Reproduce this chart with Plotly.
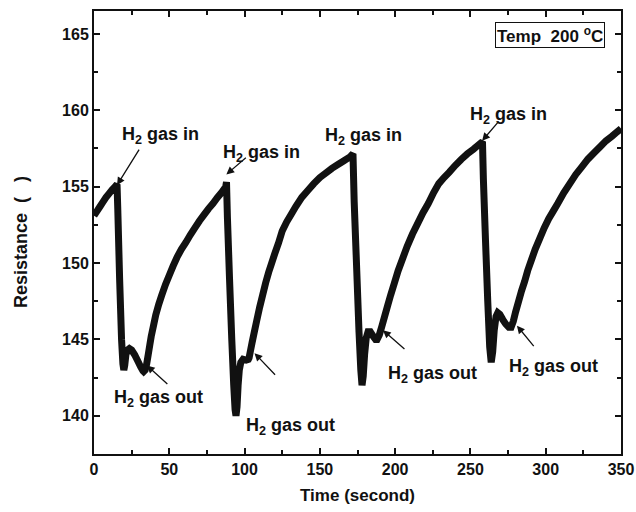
import plotly.graph_objects as go

# Time (s) and resistance values
time_s = [0, 2, 4, 6, 8, 10, 12, 14, 15.3,
          15.8, 17, 18.3, 19.2, 19.8, 20.4, 21.2, 22.2, 23.5, 25, 27, 29, 31, 32.5, 33,
          34, 35, 36, 37, 38, 39.5, 41, 43, 45, 47.5, 50, 52.5, 55, 58, 61, 64, 67, 70, 73, 76, 79, 82, 85, 87.5, 88,
          88.6, 90, 91.5, 92.8, 93.7, 94.3, 95, 95.7, 96.5, 97.5, 99, 101, 102.5, 103,
          104, 105, 106.5, 108, 110, 112, 114, 116, 118, 120, 122.5, 125, 128, 131, 134, 138, 142, 146, 150, 154, 158, 162, 166, 170, 172,
          172.8, 174.5, 176, 177.2, 178, 178.8, 179.7, 180.8, 182, 183.5, 185.5, 187, 188,
          189.5, 191, 193, 195, 197, 199.5, 202, 205, 208, 211.5, 215, 218.5, 222, 225.5, 229, 232.5, 236, 240, 244, 248, 252, 255, 258,
          258.6, 260, 261.5, 262.8, 263.8, 264.8, 265.8, 267, 268.2, 269.5, 271.5, 273.5, 275.5, 277,
          278.5, 280, 282, 284, 286, 288, 290.5, 293, 296, 299, 302, 305, 308, 312, 316, 320, 324, 328, 332, 336, 340, 344, 347, 350]
resistance = [153.1, 153.4, 153.7, 154.0, 154.3, 154.55, 154.8, 155.0, 155.15,
              153.5, 149.0, 145.0, 143.4, 143.0, 143.3, 144.0, 144.3, 144.4, 144.3, 144.0, 143.6, 143.2, 142.95, 142.9,
              143.0, 143.4, 144.0, 144.6, 145.2, 145.9, 146.6, 147.3, 147.9, 148.6, 149.2, 149.8, 150.35, 150.9, 151.35, 151.85, 152.3, 152.75, 153.15, 153.55, 153.9, 154.3, 154.65, 155.0, 155.3,
              153.0, 149.0, 145.0, 142.0, 140.4, 140.0, 140.6, 142.0, 143.0, 143.5, 143.7, 143.65, 143.7, 143.8,
              144.3, 144.8, 145.5, 146.2, 147.1, 147.9, 148.7, 149.4, 150.0, 150.6, 151.3, 152.1, 152.7, 153.2, 153.7, 154.3, 154.75, 155.2, 155.6, 155.9, 156.2, 156.45, 156.7, 156.95, 157.15,
              154.0, 149.5, 145.5, 143.0, 142.0, 142.6, 144.0, 145.1, 145.5, 145.5, 145.2, 145.0, 145.0,
              145.3, 145.8, 146.5, 147.2, 147.9, 148.7, 149.5, 150.3, 151.1, 151.9, 152.6, 153.3, 153.9, 154.6, 155.2, 155.6, 155.95, 156.4, 156.8, 157.15, 157.45, 157.7, 157.95,
              155.5, 151.5, 147.5, 144.5, 143.5, 144.2, 145.6, 146.5, 146.75, 146.65, 146.3, 146.0, 145.8, 145.8,
              146.2, 146.8, 147.5, 148.2, 148.8, 149.5, 150.2, 150.9, 151.6, 152.3, 152.9, 153.4, 153.9, 154.6, 155.2, 155.8, 156.3, 156.8, 157.2, 157.6, 158.0, 158.3, 158.55, 158.8]

# Annotation labels: (text, x, y)
label_text = ["H<sub>2</sub> gas in", "H<sub>2</sub> gas in", "H<sub>2</sub> gas in", "H<sub>2</sub> gas in",
              "H<sub>2</sub> gas out", "H<sub>2</sub> gas out", "H<sub>2</sub> gas out", "H<sub>2</sub> gas out"]
label_x = [43.9, 111.2, 179.1, 275.5, 42.6, 130.3, 224.6, 305.1]
label_y = [158.33, 157.2, 158.28, 159.65, 141.16, 139.33, 142.73, 143.18]

# Arrow tips (data) and tail offsets (pixels)
arrow_x = [15.3, 87.9, 257.8, 35.1, 106.6, 191.9, 280.9]
arrow_y = [155.1, 155.8, 158.0, 143.3, 144.1, 145.6, 145.9]
arrow_ax = [23, 21, 17, 22, 22, 23, 18]
arrow_ay = [-37, -18, -20, 20, 23, 20, 22]

FONT = "Liberation Sans, Arial, sans-serif"

fig = go.Figure()
fig.add_trace(go.Scatter(x=time_s, y=resistance, mode="lines",
                         line=dict(color="#111111", width=7, simplify=False), showlegend=False))

for t, x, y in zip(label_text, label_x, label_y):
    fig.add_annotation(x=x, y=y, text="<b>" + t + "</b>", showarrow=False,
                       font=dict(family=FONT, size=18, color="#111"))

for x, y, ax, ay in zip(arrow_x, arrow_y, arrow_ax, arrow_ay):
    fig.add_annotation(x=x, y=y, ax=ax, ay=ay, text="", showarrow=True,
                       arrowhead=2, arrowsize=1.2, arrowwidth=1.3, arrowcolor="#111")

fig.add_annotation(xref="paper", yref="paper", x=0.970, y=0.976, xanchor="right", yanchor="top",
                   text="<b>Temp  200 <sup>o</sup>C</b>", showarrow=False,
                   font=dict(family=FONT, size=17, color="#111"),
                   bordercolor="#111", borderwidth=1, borderpad=1, bgcolor="white")

fig.add_annotation(xref="paper", yref="paper", x=-0.139, y=0.478, xanchor="center", yanchor="middle",
                   textangle=-90, text="<b>Resistance  (   )</b>", showarrow=False,
                   font=dict(family=FONT, size=18, color="#111"))

axis_common = dict(showgrid=False, zeroline=False, showline=True, linecolor="#111", linewidth=2,
                   mirror="allticks", ticks="inside", ticklen=6, tickwidth=1.5, tickcolor="#111",
                   tickfont=dict(family=FONT, size=16, color="#111"),
                   tickprefix="<b>", ticksuffix="</b>")

fig.update_xaxes(range=[0, 350], tick0=0, dtick=50,
                 minor=dict(ticks="inside", ticklen=4, tickwidth=1.5, tickcolor="#111", dtick=25),
                 title=dict(text="<b>Time (second)</b>", font=dict(family=FONT, size=17, color="#111"), standoff=12),
                 **axis_common)
fig.update_yaxes(range=[137.5, 166.5], tick0=140, dtick=5,
                 minor=dict(ticks="inside", ticklen=4, tickwidth=1.5, tickcolor="#111", dtick=2.5),
                 **axis_common)
fig.update_layout(width=636, height=512, margin=dict(l=93.5, r=15.4, t=11, b=58, autoexpand=False),
                  paper_bgcolor="white", plot_bgcolor="white",
                  font=dict(family=FONT, color="#111"))
fig.write_html("out.html", config={"displayModeBar": False},
               post_script="document.body.style.margin='0';document.body.style.padding='0';")
